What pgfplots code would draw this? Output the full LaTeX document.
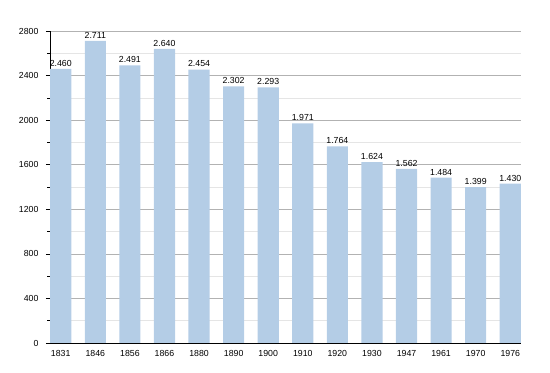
\documentclass[border=0pt]{standalone}
\usepackage{pgfplots}
\usepackage{pgfplotstable}
\pgfplotsset{compat=1.18}
\usepackage{fontspec}
\setmainfont{Liberation Sans}
\usetikzlibrary{calc}
\definecolor{barblue}{HTML}{B4CDE6}
\pgfplotstableread{
x y lab
0 2460 2.460
1 2711 2.711
2 2491 2.491
3 2640 2.640
4 2454 2.454
5 2302 2.302
6 2293 2.293
7 1971 1.971
8 1764 1.764
9 1624 1.624
10 1562 1.562
11 1484 1.484
12 1399 1.399
13 1430 1.430
}\data
\begin{document}
\begin{tikzpicture}
\begin{axis}[name=ax, scale only axis, width=471bp, height=312bp,
  ymin=0, ymax=2800, ytick={0,400,...,2800}, minor ytick={200,600,...,2600},
  xmin=-0.31, xmax=13.31, xtick={0,...,13},
  xticklabels={1831,1846,1856,1866,1880,1890,1900,1910,1920,1930,1947,1961,1970,1976},
  axis x line*=bottom, axis y line*=left, axis line style={-, black, line width=0.8pt},
  ymajorgrids, yminorgrids,
  major grid style={draw=gray!60, line width=0.5pt},
  minor grid style={draw=gray!20, line width=0.5pt},
  tick align=outside, major tick length=4bp, minor tick length=2.5bp,
  y tick style={black, line width=0.6pt},
  x tick style={draw=none},
  tick label style={font=\fontsize{8.8}{10}\selectfont},
  /pgf/number format/assume math mode=true,
  /pgf/number format/1000 sep={},
  yticklabel style={xshift=-4bp},
  xticklabel style={yshift=0bp},
  nodes near coords, point meta=explicit symbolic,
  every node near coord/.append style={font=\fontsize{8.8}{10}\selectfont, black, yshift=-1bp},
]
\addplot[ybar, bar width=0.61, fill=barblue, draw=none] table[x=x, y=y, meta=lab] {\data};
\end{axis}
\path ($(ax.south west)+(-50bp,-30bp)$) rectangle ($(ax.north east)+(29bp,31bp)$);
\end{tikzpicture}
\end{document}
